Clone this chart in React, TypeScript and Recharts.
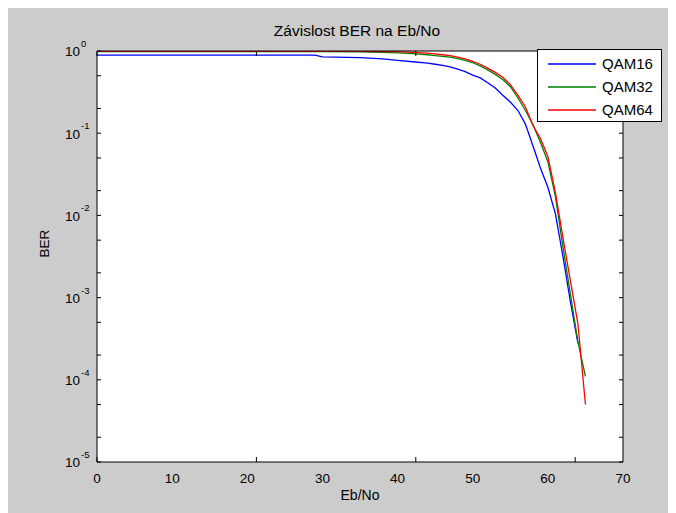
import React from "react";
import {
  LineChart,
  Line,
  XAxis,
  YAxis,
  CartesianGrid,
  Legend,
} from "recharts";

// Eb/No points
const ebno = [
  0, 5, 10, 15, 20, 25, 29, 30, 35, 38, 40, 42, 44, 45, 46, 47, 48, 49, 50, 51,
  52, 53, 54, 55, 56, 57, 58, 59, 60, 61, 62, 63, 64, 65,
];
const qam16 = [
  0.89, 0.89, 0.89, 0.89, 0.89, 0.89, 0.89, 0.85, 0.83, 0.8, 0.77, 0.74, 0.71,
  0.69, 0.67, 0.64, 0.6, 0.56, 0.51, 0.47, 0.41, 0.355, 0.29, 0.24, 0.19, 0.13,
  0.071, 0.038, 0.022, 0.0105, 0.0032, 0.00089, 0.00028, null,
];
const qam32 = [
  0.985, 0.985, 0.985, 0.985, 0.985, 0.985, 0.985, 0.985, 0.975, 0.96, 0.95,
  0.93, 0.9, 0.88, 0.86, 0.84, 0.81, 0.77, 0.72, 0.66, 0.59, 0.52, 0.45, 0.37,
  0.27, 0.19, 0.128, 0.078, 0.045, 0.017, 0.0042, 0.0011, 0.00029, 0.00011,
];
const qam64 = [
  0.99, 0.99, 0.99, 0.99, 0.99, 0.99, 0.99, 0.99, 0.99, 0.985, 0.98, 0.96,
  0.94, 0.92, 0.9, 0.88, 0.84, 0.8, 0.75, 0.69, 0.62, 0.55, 0.48, 0.39, 0.29,
  0.21, 0.125, 0.087, 0.052, 0.019, 0.0054, 0.0016, 0.00048, 0.00005,
];

const xTicks = [0, 10, 20, 30, 40, 50, 60, 70];
const decades = [1e-5, 1e-4, 1e-3, 1e-2, 1e-1, 1];
const minorTicks = decades
  .slice(0, -1)
  .flatMap((d) => [1, 2, 3, 4, 5, 6, 7, 8, 9].map((m) => m * d))
  .concat([1]);

const rows = ebno.map((x, i) => ({
  x,
  QAM16: qam16[i],
  QAM32: qam32[i],
  QAM64: qam64[i],
}));

const FONT = '"Liberation Sans", Arial, sans-serif';

const PowTick = ({ x, y, payload }: any) => {
  const exp = Math.round(Math.log10(payload.value));
  return (
    <g>
      <text x={x - 17} y={y} dy="0.4em" textAnchor="end" fontSize={13.5} fill="#000" fontFamily={FONT}>
        10
      </text>
      <text x={x - 16} y={y - 4} textAnchor="start" fontSize={9.5} fill="#000" fontFamily={FONT}>
        {exp}
      </text>
    </g>
  );
};

const NoLabel = () => <g />;

const LegendBox = ({ payload }: any) => (
  <div
    style={{
      border: "1px solid #000",
      background: "#fff",
      width: 125,
      height: 73,
      boxSizing: "border-box",
      paddingTop: 2,
      fontFamily: FONT,
      fontSize: 15,
    }}
  >
    {(payload || []).map((p: any) => (
      <div key={p.value} style={{ display: "flex", alignItems: "center", height: 23 }}>
        <svg width={64} height={10}>
          <line x1={10} x2={58} y1={5} y2={5} stroke={p.color} strokeWidth={1.3} />
        </svg>
        <span>{p.value}</span>
      </div>
    ))}
  </div>
);

const App = () => {
  return (
    <div style={{ position: "relative", width: 668, height: 505, background: "#cccccc" }}>
      <div
        style={{
          position: "absolute",
          top: 14,
          left: 86,
          width: 526,
          textAlign: "center",
          fontFamily: FONT,
          fontSize: 15.5,
        }}
      >
        Závislost BER na Eb/No
      </div>
      <LineChart
        width={668}
        height={505}
        data={rows}
        margin={{ top: 43, right: 53, bottom: 0, left: 0 }}
        style={{ fontFamily: FONT }}
      >
        <CartesianGrid fill="#ffffff" horizontal={false} vertical={false} />
        <XAxis
          dataKey="x"
          type="number"
          domain={[0, 70]}
          ticks={xTicks}
          allowDataOverflow
          height={51}
          tickSize={0}
          tickMargin={11}
          tickLine={false}
          axisLine={{ stroke: "#000" }}
          tick={{ fill: "#000", fontSize: 13.5 }}
          label={{ value: "Eb/No", position: "center", dy: 8, fill: "#000", fontSize: 14 }}
        />
        <XAxis
          xAxisId="inB"
          type="number"
          domain={[0, 70]}
          ticks={xTicks}
          allowDataOverflow
          mirror
          tickSize={5}
          tick={<NoLabel />}
          tickLine={{ stroke: "#000" }}
          axisLine={false}
        />
        <XAxis
          xAxisId="top"
          orientation="top"
          type="number"
          domain={[0, 70]}
          ticks={xTicks}
          allowDataOverflow
          mirror
          tickSize={5}
          tick={<NoLabel />}
          tickLine={{ stroke: "#000" }}
          axisLine={{ stroke: "#000" }}
        />
        <YAxis
          scale="log"
          type="number"
          domain={[1e-5, 1]}
          ticks={decades}
          allowDataOverflow
          width={89}
          tickSize={0}
          tickMargin={0}
          tickLine={false}
          axisLine={{ stroke: "#000" }}
          tick={<PowTick />}
          label={{ value: "BER", angle: -90, position: "center", dx: -8, dy: -13, fill: "#000", fontSize: 13.5 }}
        />
        <YAxis
          yAxisId="inL"
          scale="log"
          type="number"
          domain={[1e-5, 1]}
          ticks={minorTicks}
          allowDataOverflow
          mirror
          tickSize={4}
          tick={<NoLabel />}
          tickLine={{ stroke: "#000" }}
          axisLine={false}
        />
        <YAxis
          yAxisId="right"
          orientation="right"
          scale="log"
          type="number"
          domain={[1e-5, 1]}
          ticks={minorTicks}
          allowDataOverflow
          mirror
          tickSize={4}
          tick={<NoLabel />}
          tickLine={{ stroke: "#000" }}
          axisLine={{ stroke: "#000" }}
        />
        <Legend
          layout="horizontal"
          verticalAlign="middle"
          align="center"
          content={<LegendBox />}
          wrapperStyle={{ top: 41, left: 529, width: 125 }}
        />
        <Line dataKey="QAM16" stroke="#0000ff" strokeWidth={1.3} dot={false} isAnimationActive={false} />
        <Line dataKey="QAM32" stroke="#008000" strokeWidth={1.3} dot={false} isAnimationActive={false} />
        <Line dataKey="QAM64" stroke="#ff0000" strokeWidth={1.3} dot={false} isAnimationActive={false} />
      </LineChart>
    </div>
  );
};

export default App;
